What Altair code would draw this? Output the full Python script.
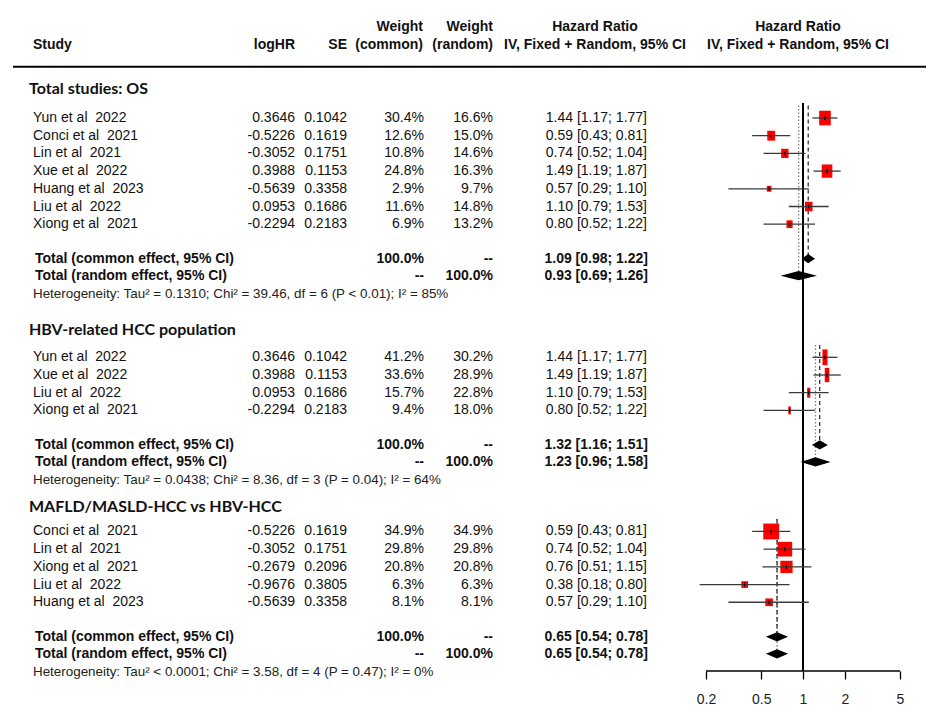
import altair as alt
import pandas as pd

# ---------------- data ----------------
group_titles = ["Total studies: OS", "HBV-related HCC population", "MAFLD/MASLD-HCC vs HBV-HCC"]

NB = "\u00a0 "
os_study = [f"Yun et al{NB}2022", f"Conci et al{NB}2021", f"Lin et al{NB}2021", f"Xue et al{NB}2022",
            f"Huang et al{NB}2023", f"Liu et al{NB}2022", f"Xiong et al{NB}2021"]
os_loghr = [0.3646, -0.5226, -0.3052, 0.3988, -0.5639, 0.0953, -0.2294]
os_se = [0.1042, 0.1619, 0.1751, 0.1153, 0.3358, 0.1686, 0.2183]
os_wc = [30.4, 12.6, 10.8, 24.8, 2.9, 11.6, 6.9]
os_wr = [16.6, 15.0, 14.6, 16.3, 9.7, 14.8, 13.2]
os_hr = [1.44, 0.59, 0.74, 1.49, 0.57, 1.10, 0.80]
os_lo = [1.17, 0.43, 0.52, 1.19, 0.29, 0.79, 0.52]
os_hi = [1.77, 0.81, 1.04, 1.87, 1.10, 1.53, 1.22]
os_common = [1.09, 0.98, 1.22]
os_random = [0.93, 0.69, 1.26]
os_het = "Heterogeneity: Tau² = 0.1310; Chi² = 39.46, df = 6 (P < 0.01); I² = 85%"

hbv_study = [f"Yun et al{NB}2022", f"Xue et al{NB}2022", f"Liu et al{NB}2022", f"Xiong et al{NB}2021"]
hbv_loghr = [0.3646, 0.3988, 0.0953, -0.2294]
hbv_se = [0.1042, 0.1153, 0.1686, 0.2183]
hbv_wc = [41.2, 33.6, 15.7, 9.4]
hbv_wr = [30.2, 28.9, 22.8, 18.0]
hbv_hr = [1.44, 1.49, 1.10, 0.80]
hbv_lo = [1.17, 1.19, 0.79, 0.52]
hbv_hi = [1.77, 1.87, 1.53, 1.22]
hbv_common = [1.32, 1.16, 1.51]
hbv_random = [1.23, 0.96, 1.58]
hbv_het = "Heterogeneity: Tau² = 0.0438; Chi² = 8.36, df = 3 (P = 0.04); I² = 64%"

maf_study = [f"Conci et al{NB}2021", f"Lin et al{NB}2021", f"Xiong et al{NB}2021", f"Liu et al{NB}2022",
             f"Huang et al{NB}2023"]
maf_loghr = [-0.5226, -0.3052, -0.2679, -0.9676, -0.5639]
maf_se = [0.1619, 0.1751, 0.2096, 0.3805, 0.3358]
maf_wc = [34.9, 29.8, 20.8, 6.3, 8.1]
maf_wr = [34.9, 29.8, 20.8, 6.3, 8.1]
maf_hr = [0.59, 0.74, 0.76, 0.38, 0.57]
maf_lo = [0.43, 0.52, 0.51, 0.18, 0.29]
maf_hi = [0.81, 1.04, 1.15, 0.80, 1.10]
maf_common = [0.65, 0.54, 0.78]
maf_random = [0.65, 0.54, 0.78]
maf_het = "Heterogeneity: Tau² < 0.0001; Chi² = 3.58, df = 4 (P = 0.47); I² = 0%"

axis_ticks = [0.2, 0.5, 1, 2, 5]
header_line1 = ["", "", "", "Weight", "Weight", "Hazard Ratio", "Hazard Ratio"]
header_line2 = ["Study", "logHR", "SE", "(common)", "(random)",
                "IV, Fixed + Random, 95% CI", "IV, Fixed + Random, 95% CI"]

groups = [
    dict(study=os_study, loghr=os_loghr, se=os_se, wc=os_wc, wr=os_wr, hr=os_hr, lo=os_lo, hi=os_hi,
         common=os_common, random=os_random, het=os_het),
    dict(study=hbv_study, loghr=hbv_loghr, se=hbv_se, wc=hbv_wc, wr=hbv_wr, hr=hbv_hr, lo=hbv_lo, hi=hbv_hi,
         common=hbv_common, random=hbv_random, het=hbv_het),
    dict(study=maf_study, loghr=maf_loghr, se=maf_se, wc=maf_wc, wr=maf_wr, hr=maf_hr, lo=maf_lo, hi=maf_hi,
         common=maf_common, random=maf_random, het=maf_het),
]

# ---------------- layout (row units) ----------------
Y_TOP, Y_BOTTOM = -6.215, 31.243
HDR1_ROW, HDR2_ROW, HLINE_ROW = -5.14, -4.12, -2.9
FIRST_HEAD = -1.64
HEAD_TO_STUDY = [1.64, 1.53, 1.36]
STUDY_TO_COMMON = 1.95
COMMON_TO_RANDOM = 0.96
RANDOM_TO_HET = 1.05
HET_TO_HEAD = [2.03, 1.52]
REF_TOP_PAD = 0.7
NULL_TOP = -0.85
DIAMOND_HALF = 0.26

ARIAL = "Liberation Sans"
HEAD_FONT = "Lato"
TXT = "#111111"

# ---------------- build tables ----------------
study_recs, total_recs, het_recs, head_recs, ref_recs, dia_recs = [], [], [], [], [], []
r = FIRST_HEAD
for gi, g in enumerate(groups):
    head_recs.append(dict(row=r, title=group_titles[gi]))
    r += HEAD_TO_STUDY[gi]
    first = r
    for i, s in enumerate(g["study"]):
        study_recs.append(dict(group=gi, row=r, label=s,
                               loghr_t=f"{g['loghr'][i]:.4f}", se_t=f"{g['se'][i]:.4f}",
                               wc_t=f"{g['wc'][i]:.1f}%", wr_t=f"{g['wr'][i]:.1f}%",
                               hr_t=f"{g['hr'][i]:.2f} [{g['lo'][i]:.2f}; {g['hi'][i]:.2f}]",
                               hr=g["hr"][i], lo=g["lo"][i], hi=g["hi"][i], wc=g["wc"][i],
                               t1=r - 0.12, t2=r + 0.12))
        last = r
        r += 1
    rc = last + STUDY_TO_COMMON
    rr = rc + COMMON_TO_RANDOM
    rh = rr + RANDOM_TO_HET
    for kind, rowv, est, wct, wrt in [("Total (common effect, 95% CI)", rc, g["common"], "100.0%", "--"),
                                      ("Total (random effect, 95% CI)", rr, g["random"], "--", "100.0%")]:
        total_recs.append(dict(row=rowv, label=kind, wc_t=wct, wr_t=wrt,
                               hr_t=f"{est[0]:.2f} [{est[1]:.2f}; {est[2]:.2f}]"))
        did = f"{gi}-{kind}"
        dia_recs += [dict(id=did, x=est[1], y1=rowv, y2=rowv),
                     dict(id=did, x=est[0], y1=rowv - DIAMOND_HALF, y2=rowv + DIAMOND_HALF),
                     dict(id=did, x=est[2], y1=rowv, y2=rowv)]
    ref_recs.append(dict(kind="common", est=g["common"][0], top=first - REF_TOP_PAD, bottom=rc))
    ref_recs.append(dict(kind="random", est=g["random"][0], top=first - REF_TOP_PAD, bottom=rr))
    het_recs.append(dict(row=rh, text=g["het"]))
    if gi < len(groups) - 1:
        r = rh + HET_TO_HEAD[gi]

studies = pd.DataFrame(study_recs)
totals = pd.DataFrame(total_recs)
hets = pd.DataFrame(het_recs)
heads = pd.DataFrame(head_recs)
refs = pd.DataFrame(ref_recs)
dias = pd.DataFrame(dia_recs)

# ---------------- scales ----------------
yscale = alt.Scale(domain=[Y_TOP, Y_BOTTOM], reverse=True, nice=False, zero=False)
xscale = alt.Scale(type="log", domain=[0.2, 5], range=[698, 892], nice=False, clamp=False)
xaxis = alt.Axis(values=axis_ticks, format="~g", title=None, grid=False, domain=False,
                 tickColor="black", tickWidth=1.3, tickSize=8, labelFont=ARIAL,
                 labelFontSize=14, labelColor="#222222", labelPadding=13, labelFlush=False)
Y = alt.Y("row:Q", scale=yscale, axis=None)


def txt(df, field, x, align, bold=False, size=14, font=ARIAL, color=TXT):
    return alt.Chart(df).mark_text(align=align, baseline="middle", font=font, fontSize=size,
                                   fontWeight="bold" if bold else "normal", color=color).encode(
        x=alt.value(x), y=Y, text=f"{field}:N")


layers = []
# column headers
col_x = [25, 287, 339, 415, 485, 587, 790]
col_align = ["left", "right", "right", "right", "right", "center", "center"]
for i in range(len(header_line2)):
    hd = pd.DataFrame({"row": [HDR1_ROW, HDR2_ROW], "t": [header_line1[i], header_line2[i]]})
    layers.append(txt(hd, "t", col_x[i], col_align[i], bold=True))

layers.append(alt.Chart(pd.DataFrame({"a": [0]})).mark_rule(color="black", strokeWidth=2).encode(
    x=alt.value(5), x2=alt.value(918), y=alt.datum(HLINE_ROW, scale=yscale, axis=None)))

# group headers
layers.append(txt(heads, "title", 21, "left", bold=True, size=16, font=HEAD_FONT, color="#111111"))
# study rows
layers.append(txt(studies, "label", 25, "left"))
layers.append(txt(studies, "loghr_t", 287, "right"))
layers.append(txt(studies, "se_t", 339, "right"))
layers.append(txt(studies, "wc_t", 416, "right"))
layers.append(txt(studies, "wr_t", 485, "right"))
layers.append(txt(studies, "hr_t", 639, "right"))
# totals
layers.append(txt(totals, "label", 27, "left", bold=True))
layers.append(txt(totals, "wc_t", 416, "right", bold=True))
layers.append(txt(totals, "wr_t", 485, "right", bold=True))
layers.append(txt(totals, "hr_t", 640, "right", bold=True))
# heterogeneity
layers.append(txt(hets, "text", 25, "left", size=13.4, color="#222222"))

# reference lines
layers.append(alt.Chart(refs[refs.kind == "random"]).mark_rule(color="#808080", strokeWidth=1.3,
                                                               strokeDash=[1.5, 2]).encode(
    x=alt.X("est:Q", scale=xscale, axis=xaxis), y=alt.Y("top:Q", scale=yscale, axis=None), y2="bottom:Q"))
layers.append(alt.Chart(refs[refs.kind == "common"]).mark_rule(color="#111111", strokeWidth=1.1,
                                                               strokeDash=[4, 3]).encode(
    x=alt.X("est:Q", scale=xscale, axis=xaxis), y=alt.Y("top:Q", scale=yscale, axis=None), y2="bottom:Q"))

# null line at HR = 1
layers.append(alt.Chart(pd.DataFrame({"a": [0]})).mark_rule(color="black", strokeWidth=2).encode(
    x=alt.X(datum=1, scale=xscale, axis=xaxis), y=alt.datum(NULL_TOP, scale=yscale, axis=None),
    y2=alt.datum(Y_BOTTOM)))

# axis baseline, from the first to the last tick only
layers.append(alt.Chart(pd.DataFrame({"a": [0]})).mark_rule(color="black", strokeWidth=1.3).encode(
    x=alt.X(datum=axis_ticks[0], scale=xscale, axis=xaxis), x2=alt.datum(axis_ticks[-1]),
    y=alt.datum(Y_BOTTOM, scale=yscale, axis=None)))

# squares (aspect differs per panel, as in the reference)
shapes = ["M-0.8,-1L0.8,-1L0.8,1L-0.8,1Z", "M-0.32,-1L0.32,-1L0.32,1L-0.32,1Z", "M-1,-1L1,-1L1,1L-1,1Z"]
size_ranges = [[15, 665], [10, 590], [0, 720]]
for gi in range(3):
    layers.append(alt.Chart(studies[studies.group == gi]).mark_point(
        shape=shapes[gi], filled=True, color="#FF0000", opacity=1, strokeWidth=0).encode(
        x=alt.X("hr:Q", scale=xscale, axis=xaxis), y=Y,
        size=alt.Size("wc:Q", scale=alt.Scale(domain=[0, 100], range=size_ranges[gi]), legend=None)))

# confidence intervals
layers.append(alt.Chart(studies).mark_rule(color="#3a3a3a", strokeWidth=1.3).encode(
    x=alt.X("lo:Q", scale=xscale, axis=xaxis), x2="hi:Q", y=Y))
layers.append(alt.Chart(studies).mark_rule(color="black", strokeWidth=1).encode(
    x=alt.X("hr:Q", scale=xscale, axis=xaxis), y=alt.Y("t1:Q", scale=yscale, axis=None), y2="t2:Q"))

# diamonds
layers.append(alt.Chart(dias).mark_area(color="black", orient="vertical", opacity=1).encode(
    x=alt.X("x:Q", scale=xscale, axis=xaxis), y=alt.Y("y1:Q", scale=yscale, axis=None), y2="y2:Q",
    detail="id:N"))

chart = alt.layer(*layers).resolve_scale(size="independent").properties(
    width=931, height=663, padding=0).configure_view(strokeWidth=0)

chart.save("out.html", embed_options={"renderer": "svg", "actions": False})
